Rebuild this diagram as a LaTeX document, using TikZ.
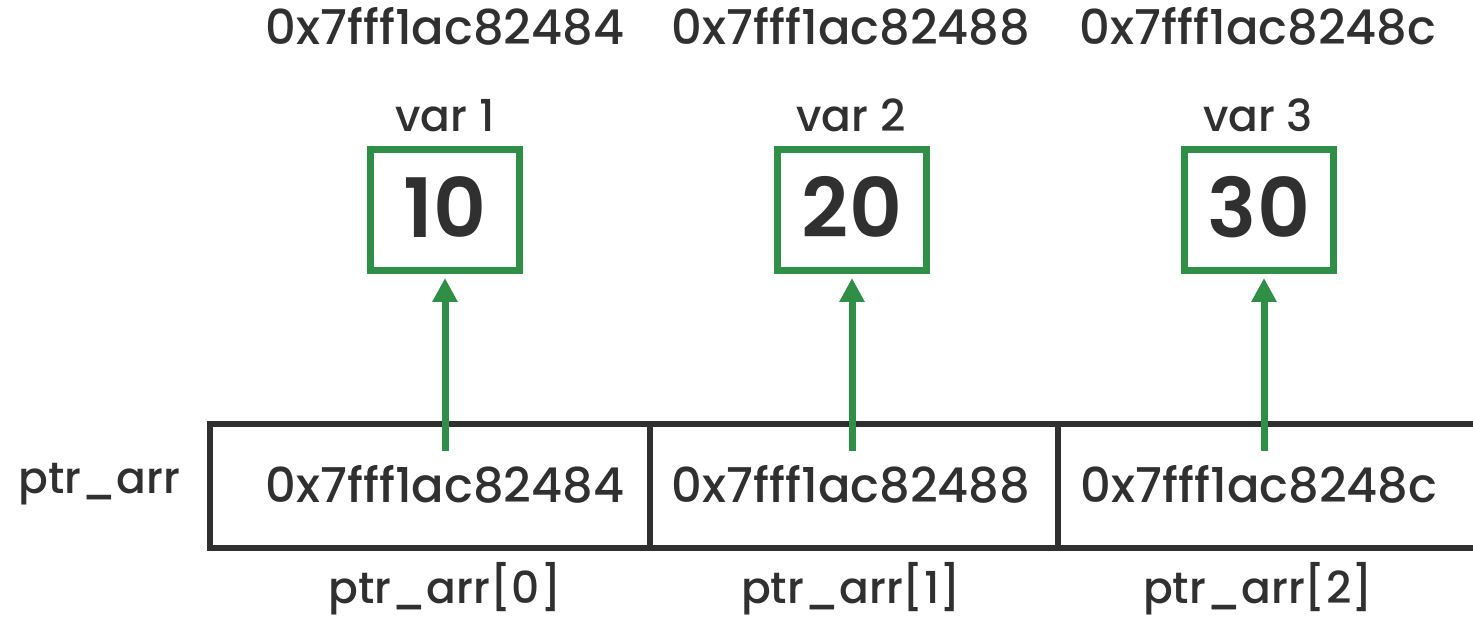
\documentclass[tikz,border=0pt]{standalone}
\usepackage{fontspec}
\setmainfont{Poppins}
\newfontfamily\pmed{Poppins Medium}
\newfontfamily\psemi{Poppins SemiBold}
\usetikzlibrary{arrows.meta}
\definecolor{gfg}{HTML}{2F8F46}
\definecolor{ink}{HTML}{303030}
\tikzset{
  addr/.style={anchor=base, text=ink, font=\pmed\fontsize{24}{28}\selectfont, inner sep=0pt},
  lbl/.style={anchor=base, text=ink, font=\pmed\fontsize{22}{26}\selectfont, inner sep=0pt},
  varbox/.style={draw=gfg, line width=3.5pt, minimum width=74.5pt, minimum height=60.5pt, inner sep=0pt},
  num/.style={anchor=base, text=ink, font=\psemi\fontsize{41}{46}\selectfont, inner sep=0pt},
  arr/.style={draw=gfg, line width=3.5pt, -{Triangle[length=12pt,width=12pt]}, shorten >=2pt},
  arrbox/.style={draw=ink, line width=3pt}
}
\begin{document}
\begin{tikzpicture}[x=0.5pt,y=-0.5pt]
\useasboundingbox (0,0) rectangle (1473,620);
% top addresses
\node[addr] (a0) at (445,45) {0x7fff1ac82484};
\node[addr] (a1) at (851,45) {0x7fff1ac82488};
\node[addr] (a2) at (1258,45) {0x7fff1ac8248c};
% var labels
\node[lbl] (l0) at (445,132) {var 1};
\node[lbl] (l1) at (851,132) {var 2};
\node[lbl] (l2) at (1258,132) {var 3};
% green boxes
\node[varbox] (v0) at (445,210) {};
\node[varbox] (v1) at (852,210) {};
\node[varbox] (v2) at (1259,210) {};
\node[num] (n0) at (445,238) {10};
\node[num] (n1) at (852,238) {20};
\node[num] (n2) at (1259,238) {30};
% array
\draw[arrbox] (1480,424) -- (210,424) -- (210,548) -- (1480,548);
\draw[arrbox] (650,424) -- (650,548);
\draw[arrbox] (1058,424) -- (1058,548);
\node[addr] (c0) at (445,502) {0x7fff1ac82484};
\node[addr] (c1) at (851,502) {0x7fff1ac82488};
\node[addr] (c2) at (1259,502) {0x7fff1ac8248c};
\node[lbl, anchor=base west] (pa) at (18,493) {ptr\_arr};
\node[lbl] (i0) at (445,603) {ptr\_arr[0]};
\node[lbl] (i1) at (851,603) {ptr\_arr[1]};
\node[lbl] (i2) at (1258,603) {ptr\_arr[2]};
% arrows
\coordinate (s0) at (445,451);
\coordinate (s1) at (852,451);
\coordinate (s2) at (1264,451);
\draw[arr] (s0) -- (s0 |- v0.south);
\draw[arr] (s1) -- (s1 |- v1.south);
\draw[arr] (s2) -- (s2 |- v2.south);
\end{tikzpicture}
\end{document}
